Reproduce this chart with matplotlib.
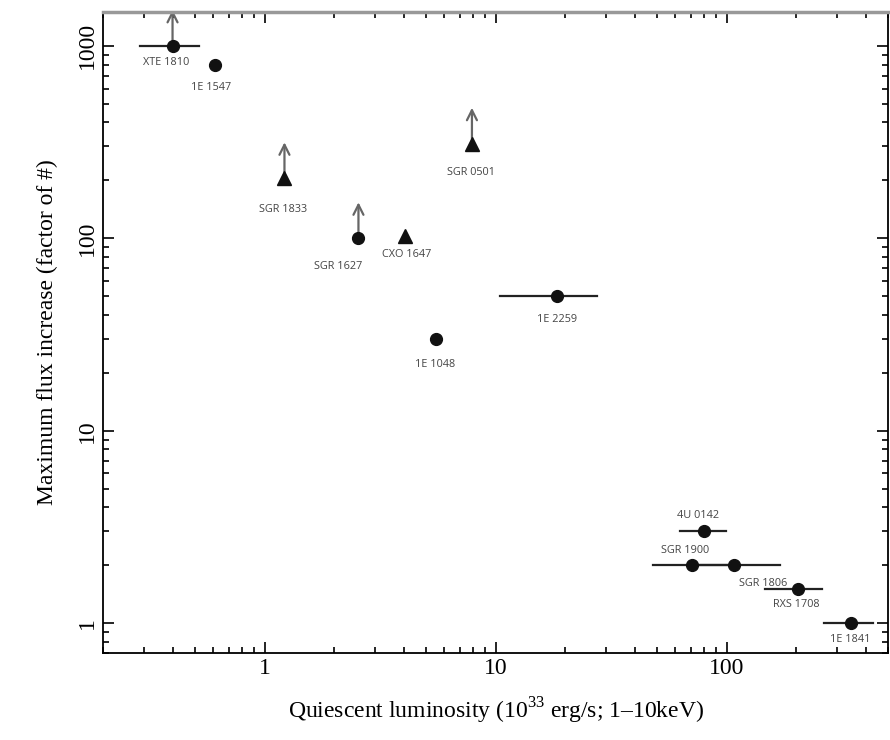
import matplotlib
matplotlib.use("Agg")
import matplotlib.pyplot as plt
from matplotlib.ticker import LogLocator, NullFormatter, FixedLocator, FixedFormatter

# magnetar outbursts: quiescent luminosity vs. max flux increase
names = ["XTE 1810", "1E 1547", "SGR 1833", "SGR 1627", "CXO 1647", "SGR 0501",
         "1E 1048", "1E 2259", "4U 0142", "SGR 1900", "SGR 1806", "RXS 1708", "1E 1841"]
lum = [0.40, 0.61, 1.22, 2.55, 4.05, 7.9, 5.5, 18.5, 80, 71, 108, 203, 345]
flux = [1000, 800, 205, 100, 103, 310, 30, 50, 3.0, 2.0, 2.0, 1.5, 1.0]
lum_lo = [0.29, None, None, None, None, None, None, 10.4, 63, 48, 75, 147, 263]
lum_hi = [0.52, None, None, None, None, None, None, 27.4, 99, 100, 170, 258, 430]
markers = ["o", "o", "^", "o", "^", "^", "o", "o", "o", "o", "o", "o", "o"]
lower_limit = [True, False, True, True, False, True, False, False, False, False, False, False, False]

# label offsets in pixels from each point (layout only)
lab_off = [(-6, -17), (-4, -23), (-1, -31), (-20, -28), (2, -19), (-1, -29),
           (0, -26), (0, -23), (-6, 16), (-7, 15), (29, -18), (-1, -15), (-1, -16)]

plt.rcParams.update({"font.family": "Liberation Serif", "font.size": 17,
                     "mathtext.fontset": "custom", "mathtext.rm": "Liberation Serif"})

fig = plt.figure(figsize=(8.9, 7.4), dpi=100)
ax = fig.add_axes([0.1157, 0.1176, 0.8823, 0.8662])
ax.set_xscale("log"); ax.set_yscale("log")
ax.set_xlim(0.2, 500); ax.set_ylim(0.7, 1500)

dark = "#111111"
for i, n in enumerate(names):
    if lum_lo[i] is not None:
        ax.plot([lum_lo[i], lum_hi[i]], [flux[i], flux[i]], color="#222222", lw=1.6, zorder=2)
    ms = 9.5 if markers[i] == "^" else 8.5
    ax.plot(lum[i], flux[i], marker=markers[i], ms=ms, color=dark, ls="none", zorder=3)
    dx, dy = lab_off[i]
    ax.annotate(n, xy=(lum[i], flux[i]), xytext=(dx, dy), textcoords="offset pixels",
                ha="center", va="center", fontsize=7.8, family="Open Sans",
                color="#444444")

ax.set_xlabel("Quiescent luminosity (10$^{\\mathrm{33}}$ erg/s; 1\u201310keV)", labelpad=12)
ax.set_ylabel("Maximum flux increase (factor of #)", labelpad=14)
ax.xaxis.set_major_locator(FixedLocator([1, 10, 100]))
ax.xaxis.set_major_formatter(FixedFormatter(["1", "10", "100"]))
ax.yaxis.set_major_locator(FixedLocator([1, 10, 100, 1000]))
ax.yaxis.set_major_formatter(FixedFormatter(["1", "10", "100", "1000"]))
ax.xaxis.set_minor_locator(LogLocator(base=10, subs=range(2, 10)))
ax.yaxis.set_minor_locator(LogLocator(base=10, subs=range(2, 10)))
ax.xaxis.set_minor_formatter(NullFormatter()); ax.yaxis.set_minor_formatter(NullFormatter())
ax.tick_params(which="both", direction="in", top=True, right=True, width=1.2)
ax.tick_params(which="major", length=8, labelsize=17)
ax.tick_params(which="minor", length=4)
plt.setp(ax.get_yticklabels(), rotation=90, va="center")
ax.spines["top"].set_color("#999999"); ax.spines["top"].set_linewidth(2.5)
for s in ["left", "bottom", "right"]:
    ax.spines[s].set_linewidth(1.3)

# upward arrows for lower limits, fixed pixel length above the point
fig.canvas.draw()
for i in range(len(names)):
    if lower_limit[i]:
        base = ax.transData.transform((lum[i], flux[i]))
        tip = ax.transData.inverted().transform((base[0], base[1] + 36))
        ax.annotate("", xy=tip, xytext=(lum[i], flux[i]),
                    arrowprops=dict(arrowstyle="->", color="#666666", lw=1.6,
                                    mutation_scale=18, shrinkA=0, shrinkB=0),
                    zorder=2, annotation_clip=False)

fig.savefig("out.png", dpi=100)
